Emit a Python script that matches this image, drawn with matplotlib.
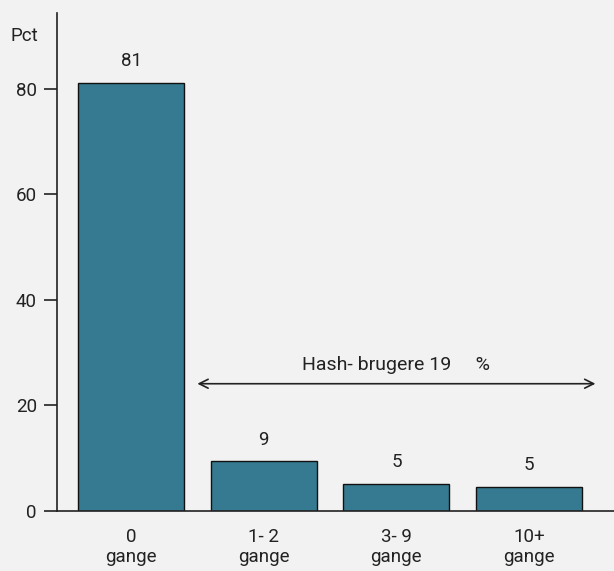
import matplotlib
matplotlib.use("Agg")
import matplotlib.pyplot as plt

# Survey: how often respondents used hash
categories = ["0\ngange", "1- 2\ngange", "3- 9\ngange", "10+\ngange"]
shares = [81.1, 9.4, 5.2, 4.6]
value_labels = ["81", "9", "5", "5"]
y_ticks = [0, 20, 40, 60, 80]
bracket_text = "Hash- brugere 19     %"

BG = "#f2f2f2"
BAR = "#367a91"
INK = "#222222"

plt.rcParams["font.family"] = ["Roboto", "DejaVu Sans"]

fig = plt.figure(figsize=(6.14, 5.71), dpi=100, facecolor=BG)
ax = fig.add_axes([57 / 614, 1 - 511 / 571, 1 - 57 / 614, (511 - 13) / 571])
ax.set_facecolor(BG)

x = list(range(len(categories)))
bars = ax.bar(x, shares, width=0.8, color=BAR, edgecolor="#111111", linewidth=1.0, zorder=2)

for rect, lab in zip(bars, value_labels):
    ax.annotate(lab, (rect.get_x() + rect.get_width() / 2, rect.get_height()),
                xytext=(0, 9), textcoords="offset points",
                ha="center", va="bottom", fontsize=13.5, color=INK)

ax.set_xlim(-0.558, 3.64)
ax.set_ylim(0, 94.3)
ax.set_yticks(y_ticks)
ax.set_xticks(x)
ax.set_xticklabels(categories, linespacing=1.2)

for side in ("top", "right"):
    ax.spines[side].set_visible(False)
ax.spines["left"].set_color(INK)
ax.spines["bottom"].set_color(INK)
ax.spines["left"].set_linewidth(1.2)
ax.spines["bottom"].set_linewidth(1.2)

ax.tick_params(axis="y", length=9.5, width=1.2, color=INK, pad=5, labelsize=13.5, labelcolor=INK)
ax.tick_params(axis="x", length=0, pad=12, labelsize=13.5, labelcolor=INK)

# Bracket spanning the hash-user groups
ax.annotate("", xy=(0.5, 24.1), xytext=(3.5, 24.1),
            arrowprops=dict(arrowstyle="<->", color=INK, lw=1.2,
                            shrinkA=0, shrinkB=0, mutation_scale=16))
ax.text(2.0, 27.6, bracket_text, ha="center", va="center", fontsize=14, color=INK)

fig.text(10 / 614, 1 - 36 / 571, "Pct", ha="left", va="center", fontsize=13.5, color=INK)

fig.savefig("out.png", dpi=100, facecolor=BG)
